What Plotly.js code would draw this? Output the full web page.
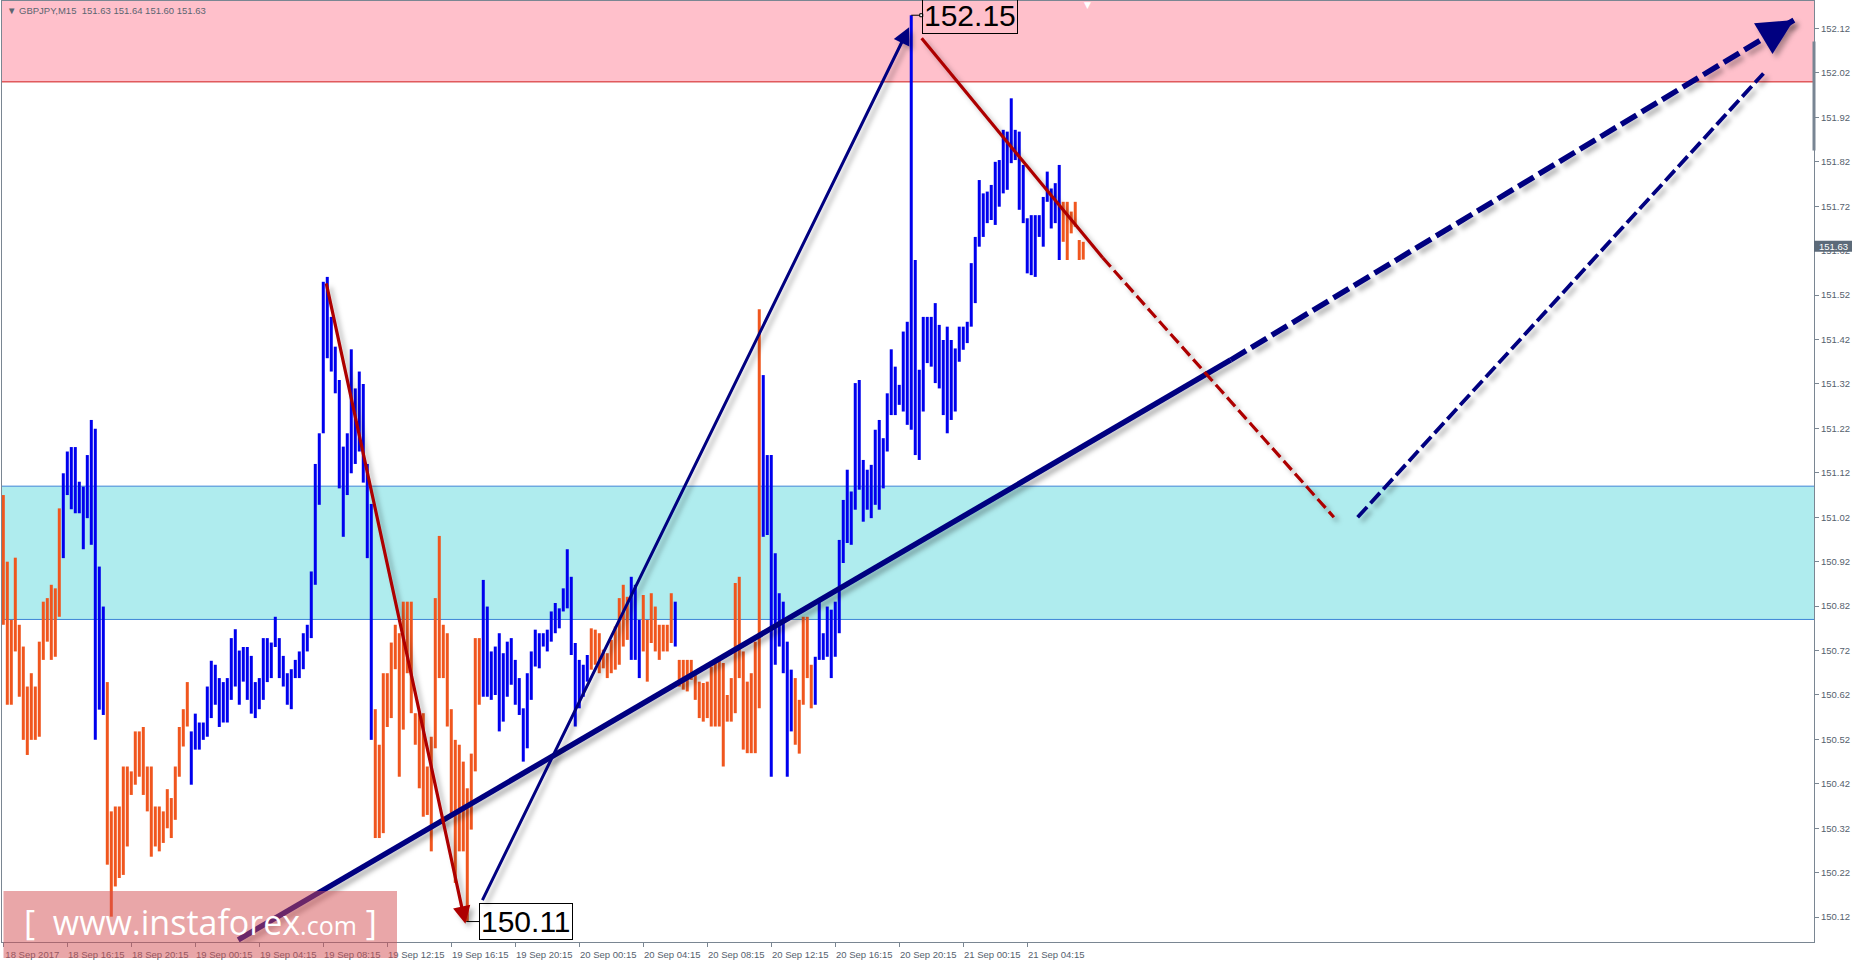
<!DOCTYPE html>
<html>
<head>
<meta charset="utf-8">
<script src="https://cdn.plot.ly/plotly-3.0.1.min.js"></script>
<style>
html,body{margin:0;padding:0;background:#ffffff;}
#chart{width:1856px;height:961px;}
</style>
</head>
<body>
<svg width="0" height="0" style="position:absolute">
  <defs>
    <filter id="wshadow" filterUnits="userSpaceOnUse" x="-300" y="-300" width="2600" height="1600">
      <feDropShadow dx="4" dy="4" stdDeviation="2.5" flood-color="#000000" flood-opacity="0.3"/>
    </filter>
  </defs>
</svg>
<div id="chart"></div>
<script>
// ---------------- DATA ----------------
const symbolName = 'GBPJPY,M15';
const lastBarOHLC = [151.63, 151.64, 151.60, 151.63];
const firstBarTime = [2017, 8, 18, 12, 15];   // 18 Sep 2017 12:15 (month 0-based)
const barMinutes = 15;

const highs = [
151.070,150.920,150.789,150.929,150.778,150.729,150.639,150.669,150.639,150.740,
150.830,150.838,150.868,150.860,151.040,151.119,151.168,151.178,151.178,151.100,
151.089,151.160,151.239,151.219,150.909,150.819,150.649,150.358,150.369,150.369,
150.459,150.459,150.448,150.538,150.538,150.548,150.459,150.459,150.369,150.369,
150.358,150.408,150.388,150.459,150.548,150.588,150.649,150.538,150.578,150.558,
150.558,150.639,150.697,150.688,150.658,150.649,150.658,150.748,150.768,150.720,
150.728,150.728,150.708,150.649,150.658,150.748,150.748,150.738,150.796,150.748,
150.708,150.669,150.678,150.699,150.718,150.759,150.778,150.898,151.140,151.209,
151.550,151.561,151.471,151.404,151.329,151.179,151.209,151.398,151.310,151.348,
151.320,151.140,151.050,150.588,150.508,150.669,150.669,150.738,150.778,150.759,
150.830,150.830,150.830,150.579,150.579,150.579,150.459,150.526,150.838,150.978,
150.778,150.759,150.588,150.519,150.508,150.470,150.410,150.488,150.748,150.748,
150.879,150.819,150.718,150.729,150.759,150.714,150.740,150.748,150.699,150.658,
150.590,150.669,150.718,150.767,150.759,150.759,150.767,150.808,150.827,150.815,
150.860,150.948,150.886,150.737,150.699,150.688,150.710,150.770,150.767,150.759,
150.722,150.714,150.744,150.774,150.838,150.868,150.841,150.886,150.868,150.789,
150.845,150.789,150.849,150.819,150.778,150.778,150.778,150.849,150.830,150.699,
150.699,150.699,150.699,150.669,150.650,150.647,150.650,150.684,150.699,150.699,
150.692,150.620,150.658,150.872,150.886,150.718,150.650,150.669,150.740,151.488,
151.340,151.160,151.160,150.939,150.849,150.830,150.740,150.677,150.658,150.609,
150.796,150.796,150.688,150.706,150.830,150.759,150.819,150.812,150.830,150.969,
151.059,151.127,151.078,151.322,151.329,151.149,151.127,151.138,151.217,151.239,
151.198,151.299,151.398,151.359,151.318,151.438,151.460,152.150,151.599,151.352,
151.471,151.471,151.471,151.502,151.453,151.419,151.449,151.419,151.400,151.449,
151.449,151.460,151.592,151.651,151.779,151.749,151.753,151.768,151.820,151.824,
151.892,151.888,151.963,151.892,151.888,151.813,151.693,151.700,151.700,151.700,
151.741,151.798,151.760,151.772,151.813,151.730,151.730,151.708,151.730,151.644,
151.640];

const lows = [
150.778,150.598,150.598,150.718,150.616,150.519,150.485,150.519,150.519,150.526,
150.699,150.740,150.699,150.706,150.796,150.928,151.070,151.038,151.029,151.029,
150.948,151.018,150.958,150.519,150.587,150.575,150.238,150.121,150.189,150.208,
150.215,150.279,150.395,150.418,150.436,150.395,150.358,150.256,150.279,150.268,
150.287,150.320,150.298,150.339,150.436,150.504,150.549,150.418,150.497,150.497,
150.519,150.526,150.568,150.598,150.548,150.558,150.558,150.609,150.639,150.598,
150.650,150.609,150.578,150.568,150.588,150.609,150.649,150.658,150.728,150.658,
150.639,150.598,150.588,150.658,150.658,150.678,150.718,150.748,150.868,151.048,
151.209,151.378,151.348,151.299,151.085,150.976,151.070,151.119,151.140,151.168,
151.098,150.928,150.519,150.298,150.298,150.309,150.548,150.568,150.678,150.436,
150.542,150.669,150.579,150.508,150.410,150.346,150.350,150.268,150.500,150.658,
150.658,150.549,150.346,150.197,150.268,150.268,150.110,150.317,150.448,150.598,
150.616,150.616,150.609,150.620,150.538,150.560,150.616,150.643,150.598,150.575,
150.470,150.500,150.609,150.684,150.680,150.729,150.718,150.740,150.759,150.770,
150.808,150.815,150.710,150.549,150.590,150.616,150.650,150.677,150.688,150.669,
150.680,150.658,150.669,150.677,150.688,150.729,150.744,150.699,150.699,150.658,
150.718,150.650,150.737,150.718,150.699,150.718,150.718,150.737,150.729,150.639,
150.632,150.628,150.654,150.609,150.568,150.560,150.568,150.549,150.549,150.549,
150.459,150.560,150.560,150.579,150.658,150.497,150.489,150.489,150.489,150.590,
150.976,150.980,150.436,150.688,150.729,150.669,150.436,150.538,150.508,150.488,
150.598,150.658,150.590,150.598,150.699,150.699,150.706,150.658,150.706,150.759,
150.917,150.962,150.958,151.037,151.082,151.010,151.037,151.018,151.048,151.037,
151.085,151.168,151.250,151.250,151.273,151.258,151.228,151.217,151.160,151.149,
151.258,151.367,151.359,151.322,151.310,151.250,151.209,151.239,151.258,151.370,
151.397,151.412,151.449,151.502,151.629,151.651,151.682,151.689,151.678,151.719,
151.749,151.757,151.817,151.824,151.712,151.682,151.569,151.565,151.561,151.651,
151.629,151.730,151.670,151.682,151.599,151.640,151.599,151.659,151.674,151.599,
151.600];

// U = bullish bar (blue), D = bearish bar (orange)
const barDirs = (
'DDDDDDDDDD' + 'DDDDDUUUUU' + 'UUUUUUDDDD' + 'DDDDDDDDDD' + 'DDDDDDDUUU' +
'UUUUUUUUUU' + 'UUUUUUUUUU' + 'UUUUUUUUUU' + 'UUUUUUUUUU' + 'UUUDDDDDDD' +
'DDDDDDDDDD' + 'DDDDDDDDDD' + 'UUUUUUUUUU' + 'UUUUUUUUUU' + 'UUUUUUUDDD' +
'DDDDDDDUUU' + 'DDDDDDDDUD' + 'DDDDDDDDDD' + 'DDDDDDDDDD' + 'UUUUUUUUDD' +
'DDDUUUUUUU' + 'UUUUUUUUUU' + 'UUUUUUUUUU' + 'UUUUUUUUUU' + 'UUUUUUUUUU' +
'UUUUUUUUUU' + 'UUUUUDDDDD' + 'D').split('');

// price zones
const resistanceZone = [152.00, 152.182];
const supportZone = [150.79, 151.09];

// axis ranges and ticks
const xRange = ['2017-09-18 12:10:07', '2017-09-23 05:25:30'];
const yRange = [150.064, 152.182];
const xTickTimes = ['2017-09-18 12:15','2017-09-18 16:15','2017-09-18 20:15','2017-09-19 00:15','2017-09-19 04:15',
  '2017-09-19 08:15','2017-09-19 12:15','2017-09-19 16:15','2017-09-19 20:15','2017-09-20 00:15','2017-09-20 04:15',
  '2017-09-20 08:15','2017-09-20 12:15','2017-09-20 16:15','2017-09-20 20:15','2017-09-21 00:15','2017-09-21 04:15'];
const xTickLabels = ['18 Sep 2017','18 Sep 16:15','18 Sep 20:15','19 Sep 00:15','19 Sep 04:15','19 Sep 08:15',
  '19 Sep 12:15','19 Sep 16:15','19 Sep 20:15','20 Sep 00:15','20 Sep 04:15','20 Sep 08:15','20 Sep 12:15',
  '20 Sep 16:15','20 Sep 20:15','21 Sep 00:15','21 Sep 04:15'];
const yTickVals = [150.12,150.22,150.32,150.42,150.52,150.62,150.72,150.82,150.92,151.02,
  151.12,151.22,151.32,151.42,151.52,151.62,151.72,151.82,151.92,152.02,152.12];

// wave mark-up lines (time, price)
const waveA_t = ['2017-09-19 08:25', '2017-09-19 17:08'];
const waveA_p = [151.550, 150.105];
const waveB_t = ['2017-09-19 18:09', '2017-09-20 20:52'];
const waveB_p = [150.155, 152.123];
const waveC_t = ['2017-09-20 21:39', '2017-09-21 08:58', '2017-09-21 23:25'];
const waveC_p = [152.098, 151.604, 151.020];
const trend_t = ['2017-09-19 02:56', '2017-09-21 16:58', '2017-09-23 04:10'];
const trend_p = [150.069, 151.374, 152.139];
const waveE_t = ['2017-09-22 00:54', '2017-09-23 02:16'];
const waveE_p = [151.020, 152.019];

// ---------------- BUILD ----------------
const BLUE = '#0000ee', ORANGE = '#f0561e', NAVY = '#000080', DARKRED = '#ad0000';
const AXIS = '#7a8692', LABEL = '#55616d';
const FONT = 'Liberation Sans, Arial, sans-serif';

function fmt(ms) { return new Date(ms).toISOString().slice(0, 19).replace('T', ' '); }
function toMs(s) { return Date.parse(s.replace(' ', 'T') + 'Z'); }
const t0 = Date.UTC(firstBarTime[0], firstBarTime[1], firstBarTime[2], firstBarTime[3], firstBarTime[4]);
const times = highs.map((_, i) => fmt(t0 + i * barMinutes * 60000));

function barSegments(dir) {
  const x = [], y = [];
  for (let i = 0; i < highs.length; i++) {
    if (barDirs[i] !== dir) continue;
    x.push(times[i], times[i], null);
    y.push(lows[i], highs[i], null);
  }
  return {x, y};
}
const up = barSegments('U'), dn = barSegments('D');

const data = [
  {type:'scatter', mode:'lines', x:dn.x, y:dn.y, line:{color:ORANGE, width:3}, hoverinfo:'skip', connectgaps:false},
  {type:'scatter', mode:'lines', x:up.x, y:up.y, line:{color:BLUE, width:3}, hoverinfo:'skip', connectgaps:false},
  // trend line (solid then dashed)
  {type:'scatter', mode:'lines', x:trend_t.slice(0,2), y:trend_p.slice(0,2), line:{color:NAVY, width:5.5}, hoverinfo:'skip'},
  {type:'scatter', mode:'lines', x:trend_t.slice(1,3), y:trend_p.slice(1,3), line:{color:NAVY, width:5.5, dash:'18px,6px'}, hoverinfo:'skip'},
  // wave C (solid then dashed)
  {type:'scatter', mode:'lines', x:waveC_t.slice(0,2), y:waveC_p.slice(0,2), line:{color:DARKRED, width:3.2}, hoverinfo:'skip'},
  {type:'scatter', mode:'lines', x:waveC_t.slice(1,3), y:waveC_p.slice(1,3), line:{color:DARKRED, width:3.2, dash:'12px,5px'}, hoverinfo:'skip'},
  // wave E dashed
  {type:'scatter', mode:'lines', x:waveE_t, y:waveE_p, line:{color:NAVY, width:3.8, dash:'14px,5px'}, hoverinfo:'skip'}
];

// arrow-head tail for dashed trend end
const fTail = 0.945;
const tailMs = toMs(trend_t[1]) + (toMs(trend_t[2]) - toMs(trend_t[1])) * fTail;
const tailP = trend_p[1] + (trend_p[2] - trend_p[1]) * fTail;

const iMax = highs.indexOf(Math.max(...highs));
const iMin = lows.indexOf(Math.min(...lows));

// plot area pixel helpers (for paper-placed decorations)
const PL = 2, PW = 1812, PB = 942, PH = 941;
const px = v => (v - PL) / PW;
const py = v => (PB - v) / PH;

const annotations = [
  {xref:'paper', yref:'paper', x:px(5), y:1, xanchor:'left', yanchor:'top', yshift:-2, showarrow:false,
   text:'\u25BC\u00a0' + symbolName + '\u00a0\u00a0' + lastBarOHLC.map(v => v.toFixed(2)).join(' '),
   font:{family:FONT, size:9.5, color:'#5b6570'}},
  {xref:'x', yref:'y', axref:'x', ayref:'y', x:waveA_t[1], y:waveA_p[1], ax:waveA_t[0], ay:waveA_p[0],
   text:'', showarrow:true, arrowhead:2, arrowsize:1.1, arrowwidth:3.2, arrowcolor:DARKRED, standoff:0},
  {xref:'x', yref:'y', axref:'x', ayref:'y', x:waveB_t[1], y:waveB_p[1], ax:waveB_t[0], ay:waveB_p[0],
   text:'', showarrow:true, arrowhead:2, arrowsize:1.15, arrowwidth:3, arrowcolor:NAVY, standoff:0},
  {xref:'x', yref:'y', axref:'x', ayref:'y', x:trend_t[2], y:trend_p[2], ax:fmt(tailMs), ay:tailP,
   text:'', showarrow:true, arrowhead:2, arrowsize:1.3, arrowwidth:5.5, arrowcolor:NAVY, standoff:0},
  {xref:'x', yref:'y', x:times[iMax], y:highs[iMax], xanchor:'left', yanchor:'middle', xshift:11, showarrow:false,
   text:highs[iMax].toFixed(2), font:{family:FONT, size:30, color:'#000000'}, bordercolor:'#000000', borderwidth:1, borderpad:1},
  {xref:'x', yref:'y', x:times[iMin], y:lows[iMin], xanchor:'left', yanchor:'middle', xshift:12, showarrow:false,
   text:lows[iMin].toFixed(2), font:{family:FONT, size:30, color:'#000000'}, bordercolor:'#000000', borderwidth:1, borderpad:1},
  {xref:'paper', yref:'paper', x:px(200), y:py(922), xanchor:'center', yanchor:'middle', showarrow:false,
   text:'[\u00a0\u00a0www.instaforex<span style="font-size:25px">.com</span>\u00a0]',
   font:{family:'Open Sans, Lato, sans-serif', size:34, color:'#ffffff'}},
  {xref:'paper', yref:'y', x:1 + 19 / PW, y:lastBarOHLC[3], xanchor:'center', yanchor:'middle', showarrow:false,
   text:lastBarOHLC[3].toFixed(2), font:{family:FONT, size:9.5, color:'#ffffff'}},
  {xref:'paper', yref:'paper', x:px(1087), y:1, xanchor:'center', yanchor:'top', yshift:3, showarrow:false,
   text:'\u25BC', font:{family:'DejaVu Sans', size:9, color:'#ffffff'}}
];

const shapes = [
  {type:'rect', xref:'paper', yref:'y', x0:0, x1:1, y0:resistanceZone[0], y1:resistanceZone[1], fillcolor:'#ffc0cb', line:{width:0}, layer:'below'},
  {type:'line', xref:'paper', yref:'y', x0:0, x1:1, y0:resistanceZone[0], y1:resistanceZone[0], line:{color:'#d01818', width:1}, layer:'below'},
  {type:'rect', xref:'paper', yref:'y', x0:0, x1:1, y0:supportZone[0], y1:supportZone[1], fillcolor:'#afecee', line:{width:0}, layer:'below'},
  {type:'line', xref:'paper', yref:'y', x0:0, x1:1, y0:supportZone[0], y1:supportZone[0], line:{color:'#3d84d6', width:1}, layer:'below'},
  {type:'line', xref:'paper', yref:'y', x0:0, x1:1, y0:supportZone[1], y1:supportZone[1], line:{color:'#3d84d6', width:1}, layer:'below'},
  // watermark plate
  {type:'rect', xref:'paper', yref:'paper', x0:px(3.5), x1:px(397), y0:py(958), y1:py(891), fillcolor:'rgba(211,77,82,0.5)', line:{width:0}, layer:'above'},
  // right-edge marker
  {type:'rect', xref:'paper', yref:'paper', x0:px(1812.5), x1:px(1815.5), y0:py(150.5), y1:py(41.5), fillcolor:'#788593', line:{width:0}, layer:'above'},
  // current price plate on axis
  {type:'rect', xref:'paper', yref:'y', x0:1, x1:1 + 38 / PW, y0:lastBarOHLC[3] - 0.0123, y1:lastBarOHLC[3] + 0.0123, fillcolor:'#5c6a79', line:{width:0}, layer:'above'},
  // price label connectors
  {type:'line', xref:'x', yref:'y', xsizemode:'pixel', xanchor:times[iMax], x0:0, x1:10, y0:highs[iMax], y1:highs[iMax], line:{color:'#000000', width:1}, layer:'above'},
  {type:'rect', xref:'x', yref:'y', xsizemode:'pixel', ysizemode:'pixel', xanchor:times[iMax], yanchor:highs[iMax], x0:8.5, x1:11.5, y0:-1.5, y1:1.5, fillcolor:'#ffffff', line:{color:'#000000', width:1}, layer:'above'},
  {type:'line', xref:'x', yref:'y', xsizemode:'pixel', xanchor:times[iMin], x0:-1, x1:12, y0:lows[iMin], y1:lows[iMin], line:{color:'#000000', width:1}, layer:'above'}
];

const layout = {
  width:1856, height:961,
  margin:{l:PL, r:1856 - PL - PW, t:1, b:961 - PB, pad:0},
  paper_bgcolor:'#ffffff', plot_bgcolor:'#ffffff',
  showlegend:false, hovermode:false,
  font:{family:FONT, size:9.5, color:LABEL},
  xaxis:{type:'date', range:xRange, showgrid:false, zeroline:false, showline:true, linecolor:AXIS, linewidth:1,
    mirror:true, ticks:'outside', ticklen:4, tickcolor:AXIS, tickwidth:1, tickmode:'array',
    tickvals:xTickTimes, ticktext:xTickLabels, ticklabelshift:29, tickfont:{family:FONT, size:9.5, color:LABEL},
    automargin:false, fixedrange:true},
  yaxis:{side:'right', range:yRange, showgrid:false, zeroline:false, showline:true, linecolor:AXIS, linewidth:1,
    mirror:true, ticks:'outside', ticklen:4, tickcolor:AXIS, tickwidth:1, tickmode:'array',
    tickvals:yTickVals, ticktext:yTickVals.map(v => v.toFixed(2)), tickfont:{family:FONT, size:9.5, color:LABEL},
    automargin:false, fixedrange:true},
  shapes:shapes,
  annotations:annotations
};

Plotly.newPlot('chart', data, layout, {staticPlot:true, displayModeBar:false}).then(gd => {
  const traces = gd.querySelectorAll('.scatterlayer .trace');
  traces.forEach((t, k) => { if (k >= 2) t.setAttribute('filter', 'url(#wshadow)'); });
  [1, 2, 3].forEach(k => {
    const g = gd.querySelector('.annotation[data-index="' + k + '"] .annotation-arrow-g');
    if (g) g.setAttribute('filter', 'url(#wshadow)');
  });
});
</script>
</body>
</html>
